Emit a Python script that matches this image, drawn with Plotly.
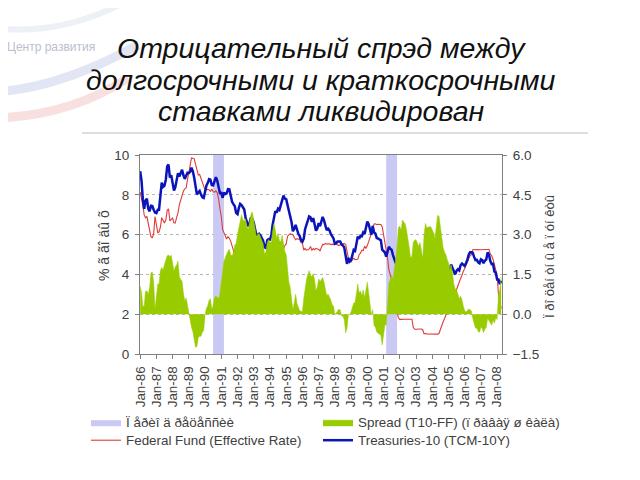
import plotly.graph_objects as go
import pandas as pd

# ---------------- data (monthly, Jan-1986 .. Apr-2008) ----------------
start_month = "1986-01-01"
n_months = 268

treasury10 = [
    9.19, 8.70, 7.78, 7.30, 7.71, 7.80, 7.30, 7.17, 7.45, 7.43, 7.25, 7.11,
    7.08, 7.25, 7.25, 8.02, 8.61, 8.40, 8.45, 8.76, 9.42, 9.52, 8.86, 8.99,
    8.67, 8.21, 8.37, 8.72, 9.09, 8.92, 9.06, 9.26, 8.98, 8.80, 8.96, 9.11,
    9.09, 9.17, 9.36, 9.18, 8.86, 8.28, 8.02, 8.11, 8.19, 8.01, 7.87, 7.84,
    8.21, 8.47, 8.59, 8.79, 8.76, 8.48, 8.47, 8.75, 8.89, 8.72, 8.39, 8.08,
    8.09, 7.85, 8.11, 8.04, 8.07, 8.28, 8.27, 7.90, 7.65, 7.53, 7.42, 7.09,
    7.03, 7.34, 7.54, 7.48, 7.39, 7.26, 6.84, 6.59, 6.42, 6.59, 6.87, 6.77,
    6.60, 6.26, 5.98, 5.97, 6.04, 5.96, 5.81, 5.68, 5.36, 5.33, 5.72, 5.77,
    5.75, 5.97, 6.48, 6.97, 7.18, 7.10, 7.30, 7.24, 7.46, 7.74, 7.96, 7.81,
    7.78, 7.47, 7.20, 7.06, 6.63, 6.17, 6.28, 6.49, 6.20, 6.04, 5.93, 5.71,
    5.65, 5.81, 6.27, 6.51, 6.74, 6.91, 6.87, 6.64, 6.83, 6.53, 6.20, 6.30,
    6.58, 6.42, 6.69, 6.89, 6.71, 6.49, 6.22, 6.30, 6.21, 6.03, 5.88, 5.81,
    5.54, 5.57, 5.65, 5.64, 5.65, 5.50, 5.46, 5.34, 4.81, 4.53, 4.83, 4.65,
    4.72, 5.00, 5.23, 5.18, 5.54, 5.90, 5.79, 5.94, 5.92, 6.11, 6.03, 6.28,
    6.66, 6.52, 6.26, 5.99, 6.44, 6.10, 6.05, 5.83, 5.80, 5.74, 5.72, 5.24,
    5.16, 5.10, 4.89, 5.14, 5.39, 5.28, 5.24, 4.97, 4.73, 4.57, 4.65, 5.09,
    5.04, 4.91, 5.28, 5.21, 5.16, 4.93, 4.65, 4.26, 3.87, 3.94, 4.05, 4.03,
    4.05, 3.90, 3.81, 3.96, 3.57, 3.33, 3.98, 4.45, 4.27, 4.29, 4.30, 4.27,
    4.15, 4.08, 3.83, 4.35, 4.72, 4.73, 4.50, 4.28, 4.13, 4.10, 4.19, 4.23,
    4.22, 4.17, 4.50, 4.34, 4.14, 4.00, 4.18, 4.26, 4.20, 4.46, 4.54, 4.47,
    4.42, 4.57, 4.72, 4.99, 5.11, 5.11, 5.09, 4.88, 4.72, 4.73, 4.60, 4.56,
    4.76, 4.72, 4.56, 4.69, 4.75, 5.10, 5.00, 4.67, 4.52, 4.53, 4.15, 4.10,
    3.74, 3.74, 3.51, 3.68,
]

fed_funds = [
    8.14, 7.86, 7.48, 6.99, 6.85, 6.92, 6.56, 6.17, 5.89, 5.85, 6.04, 6.91,
    6.43, 6.10, 6.13, 6.37, 6.85, 6.73, 6.58, 6.73, 7.22, 7.29, 6.69, 6.77,
    6.83, 6.58, 6.58, 6.87, 7.09, 7.51, 7.75, 8.01, 8.19, 8.30, 8.35, 8.76,
    9.12, 9.36, 9.85, 9.84, 9.81, 9.53, 9.24, 8.99, 9.02, 8.84, 8.55, 8.45,
    8.23, 8.24, 8.28, 8.26, 8.18, 8.29, 8.15, 8.13, 8.20, 8.11, 7.81, 7.31,
    6.91, 6.25, 6.12, 5.91, 5.78, 5.90, 5.82, 5.66, 5.45, 5.21, 4.81, 4.43,
    4.03, 4.06, 3.98, 3.73, 3.82, 3.76, 3.25, 3.30, 3.22, 3.10, 3.09, 2.92,
    3.02, 3.03, 3.07, 2.96, 3.00, 3.04, 3.06, 3.03, 3.09, 2.99, 3.02, 2.96,
    3.05, 3.25, 3.34, 3.56, 4.01, 4.25, 4.26, 4.47, 4.73, 4.76, 5.29, 5.45,
    5.53, 5.92, 5.98, 6.05, 6.01, 6.00, 5.85, 5.74, 5.80, 5.76, 5.80, 5.60,
    5.56, 5.22, 5.31, 5.22, 5.24, 5.27, 5.40, 5.22, 5.30, 5.24, 5.31, 5.29,
    5.25, 5.19, 5.39, 5.51, 5.50, 5.56, 5.52, 5.54, 5.54, 5.50, 5.52, 5.50,
    5.56, 5.51, 5.49, 5.45, 5.49, 5.56, 5.54, 5.55, 5.51, 5.07, 4.83, 4.68,
    4.63, 4.76, 4.81, 4.74, 4.74, 4.76, 4.99, 5.07, 5.22, 5.20, 5.42, 5.30,
    5.45, 5.73, 5.85, 6.02, 6.27, 6.53, 6.54, 6.50, 6.52, 6.51, 6.51, 6.40,
    5.98, 5.49, 5.31, 4.80, 4.21, 3.97, 3.77, 3.65, 3.07, 2.49, 2.09, 1.82,
    1.73, 1.74, 1.73, 1.75, 1.75, 1.75, 1.73, 1.74, 1.75, 1.75, 1.34, 1.24,
    1.24, 1.26, 1.25, 1.26, 1.26, 1.22, 1.01, 1.03, 1.01, 1.01, 1.00, 0.98,
    1.00, 1.01, 1.00, 1.00, 1.00, 1.03, 1.26, 1.43, 1.61, 1.76, 1.93, 2.16,
    2.28, 2.50, 2.63, 2.79, 3.00, 3.04, 3.26, 3.50, 3.62, 3.78, 4.00, 4.16,
    4.29, 4.49, 4.59, 4.79, 4.94, 4.99, 5.24, 5.25, 5.25, 5.25, 5.25, 5.24,
    5.25, 5.26, 5.26, 5.25, 5.25, 5.25, 5.26, 5.02, 4.94, 4.76, 4.49, 4.24,
    3.94, 2.98, 2.61, 2.28,
]

spread = [
    1.05, 0.84, 0.30, 0.31, 0.86, 0.88, 0.74, 1.00, 1.56, 1.58, 1.21, 0.20,
    0.65, 1.15, 1.12, 1.65, 1.76, 1.67, 1.87, 2.03, 2.20, 2.23, 2.17, 2.22,
    1.84, 1.63, 1.79, 1.85, 2.00, 1.41, 1.31, 1.25, 0.79, 0.50, 0.61, 0.35,
    -0.03, -0.19, -0.49, -0.66, -0.95, -1.25, -1.22, -0.88, -0.83, -0.83, -0.68, -0.61,
    -0.02, 0.23, 0.31, 0.53, 0.58, 0.19, 0.32, 0.62, 0.69, 0.61, 0.58, 0.77,
    1.18, 1.60, 1.99, 2.13, 2.29, 2.38, 2.45, 2.24, 2.20, 2.32, 2.61, 2.66,
    3.00, 3.28, 3.56, 3.75, 3.57, 3.50, 3.59, 3.29, 3.20, 3.49, 3.78, 3.85,
    3.58, 3.23, 2.91, 3.01, 3.04, 2.92, 2.75, 2.65, 2.27, 2.34, 2.70, 2.81,
    2.70, 2.72, 3.14, 3.41, 3.17, 2.85, 3.04, 2.77, 2.73, 2.98, 2.67, 2.36,
    2.25, 1.55, 1.22, 1.01, 0.62, 0.17, 0.43, 0.75, 0.40, 0.28, 0.13, 0.11,
    0.09, 0.59, 0.96, 1.29, 1.50, 1.64, 1.47, 1.42, 1.53, 1.29, 0.89, 1.01,
    1.33, 1.23, 1.30, 1.38, 1.21, 0.93, 0.70, 0.76, 0.67, 0.53, 0.36, 0.31,
    -0.02, 0.06, 0.16, 0.19, 0.16, -0.06, -0.08, -0.21, -0.70, -0.54, 0.00, -0.03,
    0.09, 0.24, 0.42, 0.44, 0.80, 1.14, 0.80, 0.87, 0.70, 0.91, 0.61, 0.98,
    1.21, 0.79, 0.41, -0.03, 0.17, -0.43, -0.49, -0.67, -0.72, -0.77, -0.79, -1.16,
    -0.82, -0.39, -0.42, 0.34, 1.18, 1.31, 1.47, 1.32, 1.66, 2.08, 2.56, 3.27,
    3.31, 3.17, 3.55, 3.46, 3.41, 3.18, 2.92, 2.52, 2.12, 2.19, 2.71, 2.79,
    2.81, 2.64, 2.56, 2.70, 2.31, 2.11, 2.97, 3.42, 3.26, 3.28, 3.30, 3.29,
    3.15, 3.07, 2.83, 3.35, 3.72, 3.70, 3.24, 2.85, 2.52, 2.34, 2.26, 2.07,
    1.94, 1.67, 1.87, 1.55, 1.14, 0.96, 0.92, 0.76, 0.58, 0.68, 0.54, 0.31,
    0.13, 0.08, 0.13, 0.20, 0.17, 0.12, -0.15, -0.37, -0.53, -0.52, -0.65, -0.68,
    -0.49, -0.54, -0.70, -0.56, -0.50, -0.15, -0.26, -0.35, -0.42, -0.23, -0.34, -0.14,
    -0.20, 0.76, 0.90, 1.40,
]

recession_start = ["1990-07-01", "2001-03-01"]
recession_end = ["1991-03-01", "2001-11-01"]

title_lines = ["Отрицательный спрэд между", "долгосрочными и краткосрочными", "ставками ликвидирован"]
name_recession = "Ï åðèî ä ðåöåññèè"
name_spread = "Spread (T10-FF) (ï ðàâàÿ ø êàëà)"
name_ff = "Federal Fund (Effective Rate)"
name_t10 = "Treasuries-10 (TCM-10Y)"
left_title = "% ã ãî äû õ"
right_title = "Ï ðî öåí òí û å ï óí êòû"
logo_text = "Центр развития"

dates = pd.date_range(start_month, periods=n_months, freq="MS")

# ---------------- layout geometry (screen pixels; page has 8px body margin) ----------------
W, H = 640, 480
OFF = 8
PL, PR, PT, PB = 140, 502, 155, 354   # plot area on screen


def px2x(px):
    return (px - PL) / (PR - PL)


def py2y(py):
    return (PB - py) / (PB - PT)


FONT = "Liberation Sans, Arial, sans-serif"
TXT = "#404040"

fig = go.Figure()

# recession bands
rx, ry = [], []
for s, e in zip(recession_start, recession_end):
    rx += [s, s, e, e, s, None]
    ry += [0, 10, 10, 0, 0, None]
fig.add_trace(go.Scatter(
    x=rx, y=ry, mode="lines", fill="toself", fillcolor="#c9c9f3",
    line=dict(width=0, color="#c9c9f3"), name=name_recession, hoverinfo="skip",
    legend="legend"))

# spread area (right axis)
fig.add_trace(go.Scatter(
    x=dates, y=spread, yaxis="y2", mode="lines", fill="tozeroy",
    fillcolor="#99cc00", line=dict(width=0.5, color="#99cc00"), name=name_spread,
    legend="legend2"))

# fed funds
fig.add_trace(go.Scatter(
    x=dates, y=fed_funds, mode="lines", line=dict(color="#e03a3a", width=1.1),
    name=name_ff, legend="legend3"))

# treasuries
fig.add_trace(go.Scatter(
    x=dates, y=treasury10, mode="lines", line=dict(color="#0a14b8", width=2.5),
    name=name_t10, legend="legend4"))

shapes = [
    dict(type="line", xref="paper", yref="paper", x0=px2x(82), x1=px2x(588),
         y0=py2y(133), y1=py2y(133), line=dict(color="#bdbdbd", width=1.2)),
    # faint logo swooshes
    dict(type="path", xref="paper", yref="paper",
         path=f"M {px2x(-5)},{py2y(92)} Q {px2x(60)},{py2y(88)} {px2x(138)},{py2y(45)}",
         line=dict(color="#b7bfe3", width=9), opacity=0.4, layer="below"),
    dict(type="path", xref="paper", yref="paper",
         path=f"M {px2x(-5)},{py2y(118)} Q {px2x(70)},{py2y(116)} {px2x(128)},{py2y(78)}",
         line=dict(color="#f0b2b2", width=9), opacity=0.4, layer="below"),
    dict(type="path", xref="paper", yref="paper",
         path=f"M {px2x(-5)},{py2y(28)} Q {px2x(60)},{py2y(36)} {px2x(125)},{py2y(2)}",
         line=dict(color="#c9cfe6", width=6), opacity=0.3, layer="below"),
]

annotations = [
    dict(text=left_title, xref="paper", yref="paper", x=px2x(104), y=py2y(246),
         xanchor="center", yanchor="middle",
         textangle=-90, showarrow=False, font=dict(family=FONT, size=14, color=TXT)),
    dict(text=right_title, xref="paper", yref="paper", x=px2x(549), y=py2y(257),
         xanchor="center", yanchor="middle",
         textangle=-90, showarrow=False, font=dict(family=FONT, size=13, color=TXT)),
    dict(text=logo_text, xref="paper", yref="paper", x=px2x(5), y=py2y(47),
         xanchor="left", yanchor="middle", showarrow=False,
         font=dict(family=FONT, size=12, color="#b9bfcc")),
]
for line_text, cy in zip(title_lines, [48, 80, 111]):
    annotations.append(dict(
        text=f"<i>{line_text}</i>", xref="paper", yref="paper", x=px2x(321), y=py2y(cy),
        xanchor="center", yanchor="middle", showarrow=False,
        font=dict(family=FONT, size=28.5, color="#111111")))

legend_common = dict(
    orientation="v", yanchor="top", xanchor="left", itemwidth=30,
    font=dict(family=FONT, size=13.4, color=TXT), tracegroupgap=0,
    bgcolor="rgba(0,0,0,0)", borderwidth=0)

ROW1, ROW2 = 423 - 16, 441 - 16
COL1, COL2 = 86, 318

fig.update_layout(
    width=W, height=H,
    margin=dict(l=PL - OFF, r=W - (PR - OFF), t=PT - OFF, b=H - (PB - OFF), pad=0,
                autoexpand=False),
    paper_bgcolor="white", plot_bgcolor="white",
    font=dict(family=FONT, size=13, color=TXT),
    showlegend=True,
    legend=dict(x=px2x(COL1), y=py2y(ROW1), **legend_common),
    legend2=dict(x=px2x(COL2), y=py2y(ROW1), **legend_common),
    legend3=dict(x=px2x(COL1), y=py2y(ROW2), **legend_common),
    legend4=dict(x=px2x(COL2), y=py2y(ROW2), **legend_common),
    xaxis=dict(
        type="date", range=["1985-12-28", "2008-04-20"],
        tick0="1986-01-01", dtick="M12", tickformat="%b-%y", tickangle=-90,
        ticks="outside", ticklen=4, tickcolor="#808080", ticklabelstandoff=2,
        showline=True, linecolor="#808080", linewidth=1, mirror=True,
        showgrid=False, zeroline=False, tickfont=dict(size=13.4, color=TXT)),
    yaxis=dict(
        range=[0, 10], dtick=2, ticks="outside", ticklen=4, tickcolor="#808080",
        showline=True, linecolor="#808080", linewidth=1, ticklabelstandoff=3,
        showgrid=True, gridcolor="#b5b5b5", griddash="dot", gridwidth=1,
        zeroline=False, tickfont=dict(size=13.5, color=TXT)),
    yaxis2=dict(
        range=[-1.5, 6], dtick=1.5, tick0=-1.5, tickformat=".1f", overlaying="y",
        side="right", ticks="outside", ticklen=4, tickcolor="#808080",
        showline=True, linecolor="#808080", linewidth=1, ticklabelstandoff=3,
        showgrid=False, zeroline=False, tickfont=dict(size=13.5, color=TXT)),
    shapes=shapes,
    annotations=annotations,
)

fig.write_html("out.html")
